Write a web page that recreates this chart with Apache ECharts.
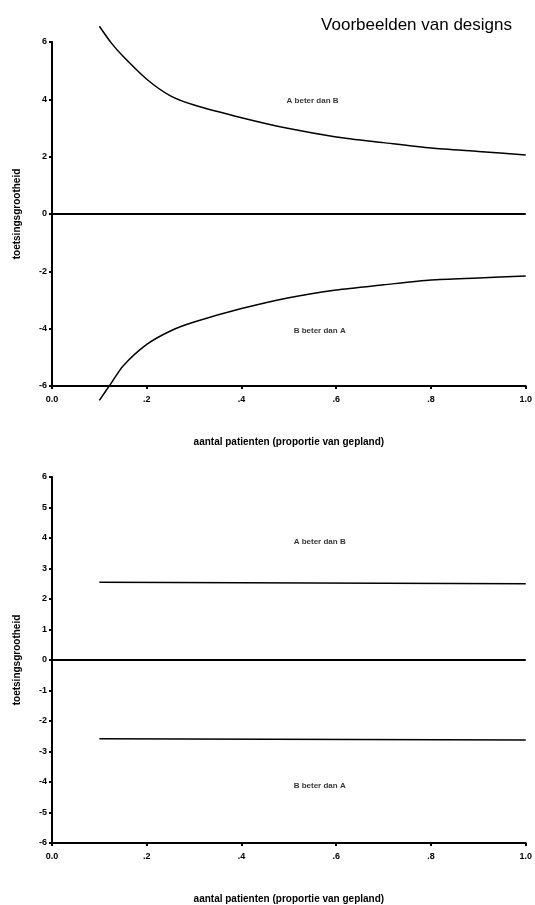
<!DOCTYPE html>
<html>
<head>
<meta charset="utf-8">
<script src="https://cdn.jsdelivr.net/npm/echarts@6/dist/echarts.min.js"></script>
<style>
  html, body { margin: 0; padding: 0; background: #fff; }
  #chart { width: 535px; height: 905px; }
</style>
</head>
<body>
<div id="chart"></div>
<script>
// Proportion of planned patients at which the boundaries are evaluated
var fractions = [0.1, 0.125, 0.15, 0.2, 0.25, 0.3, 0.4, 0.5, 0.6, 0.7, 0.8, 0.9, 1.0];
// Design 1: boundaries that narrow as more patients come in
var upperBound1 = [6.55, 5.97, 5.5, 4.7, 4.12, 3.8, 3.36, 2.98, 2.69, 2.49, 2.3, 2.18, 2.06];
var lowerBound1 = [-6.5, -5.9, -5.3, -4.55, -4.08, -3.77, -3.3, -2.92, -2.65, -2.47, -2.3, -2.23, -2.16];
// Design 2: constant boundaries
var flatFractions = [0.1, 1.0];
var upperBound2 = [2.55, 2.5];
var lowerBound2 = [-2.58, -2.62];
// Reference line at zero
var zeroFractions = [0.0, 1.0];
var zeroLine = [0, 0];
// Region labels: [fraction, statistic]
var regionLabels = [
  { text: 'A beter dan B', pos: [0.55, 3.94] },
  { text: 'B beter dan A', pos: [0.565, -4.08] }
];
var regionLabels2 = [
  { text: 'A beter dan B', pos: [0.565, 3.89] },
  { text: 'B beter dan A', pos: [0.565, -4.11] }
];
var xTickLabels = { '0': '0.0', '0.2': '.2', '0.4': '.4', '0.6': '.6', '0.8': '.8', '1': '1.0' };

var FONT = '"Liberation Sans", Arial, sans-serif';

function pairs(xs, ys) {
  return xs.map(function (x, i) { return [x, ys[i]]; });
}

function xAxisFor(gridIndex) {
  return {
    type: 'value', gridIndex: gridIndex, min: 0, max: 1, interval: 0.2,
    name: 'aantal patienten (proportie van gepland)',
    nameLocation: 'middle', nameGap: 51,
    nameTextStyle: { fontFamily: FONT, fontSize: 10, fontWeight: 'bold', color: '#000' },
    axisLine: { onZero: false, lineStyle: { color: '#000', width: 2 } },
    axisTick: { length: 3, lineStyle: { color: '#000', width: 2 } },
    axisLabel: {
      fontFamily: FONT, fontSize: 9, fontWeight: 'bold', color: '#000', margin: 9,
      formatter: function (v) { return xTickLabels[String(+v.toFixed(1))]; }
    },
    splitLine: { show: false }
  };
}

function yAxisFor(gridIndex, interval) {
  return {
    type: 'value', gridIndex: gridIndex, min: -6, max: 6, interval: interval,
    name: 'toetsingsgrootheid',
    nameLocation: 'middle', nameGap: 30, nameRotate: 90,
    nameTextStyle: { fontFamily: FONT, fontSize: 10, fontWeight: 'bold', color: '#000' },
    axisLine: { show: true, onZero: false, lineStyle: { color: '#000', width: 2 } },
    axisTick: { show: true, length: 3, lineStyle: { color: '#000', width: 2 } },
    axisLabel: { fontFamily: FONT, fontSize: 9, fontWeight: 'bold', color: '#000', margin: 5 },
    splitLine: { show: false }
  };
}

function lineSeries(idx, data, width, smooth) {
  return {
    type: 'line', xAxisIndex: idx, yAxisIndex: idx, data: data,
    showSymbol: false, smooth: smooth ? 0.25 : false, clip: false,
    lineStyle: { color: '#000', width: width }, silent: true
  };
}

function labelSeries(idx, labels) {
  return {
    type: 'scatter', xAxisIndex: idx, yAxisIndex: idx, symbolSize: 0, silent: true,
    data: labels.map(function (l) { return { name: l.text, value: l.pos }; }),
    label: {
      show: true, position: 'inside', formatter: '{b}',
      fontFamily: FONT, fontSize: 8, fontWeight: 'bold', color: '#000'
    }
  };
}

var chart = echarts.init(document.getElementById('chart'), null, { renderer: 'canvas' });
chart.setOption({
  animation: false,
  backgroundColor: '#fff',
  title: {
    text: 'Voorbeelden van designs', right: 18, top: 12,
    textStyle: { fontFamily: FONT, fontSize: 17, fontWeight: 'normal', color: '#000' }
  },
  grid: [
    { left: 52, top: 42, width: 475, height: 344 },
    { left: 52, top: 477, width: 475, height: 369 }
  ],
  xAxis: [xAxisFor(0), xAxisFor(1)],
  yAxis: [yAxisFor(0, 2), yAxisFor(1, 1)],
  series: [
    lineSeries(0, pairs(fractions, upperBound1), 1.5, true),
    lineSeries(0, pairs(fractions, lowerBound1), 1.5, true),
    lineSeries(0, pairs(zeroFractions, zeroLine), 2, false),
    labelSeries(0, regionLabels),
    lineSeries(1, pairs(flatFractions, upperBound2), 1.5, false),
    lineSeries(1, pairs(flatFractions, lowerBound2), 1.5, false),
    lineSeries(1, pairs(zeroFractions, zeroLine), 2, false),
    labelSeries(1, regionLabels2)
  ]
});
</script>
</body>
</html>
